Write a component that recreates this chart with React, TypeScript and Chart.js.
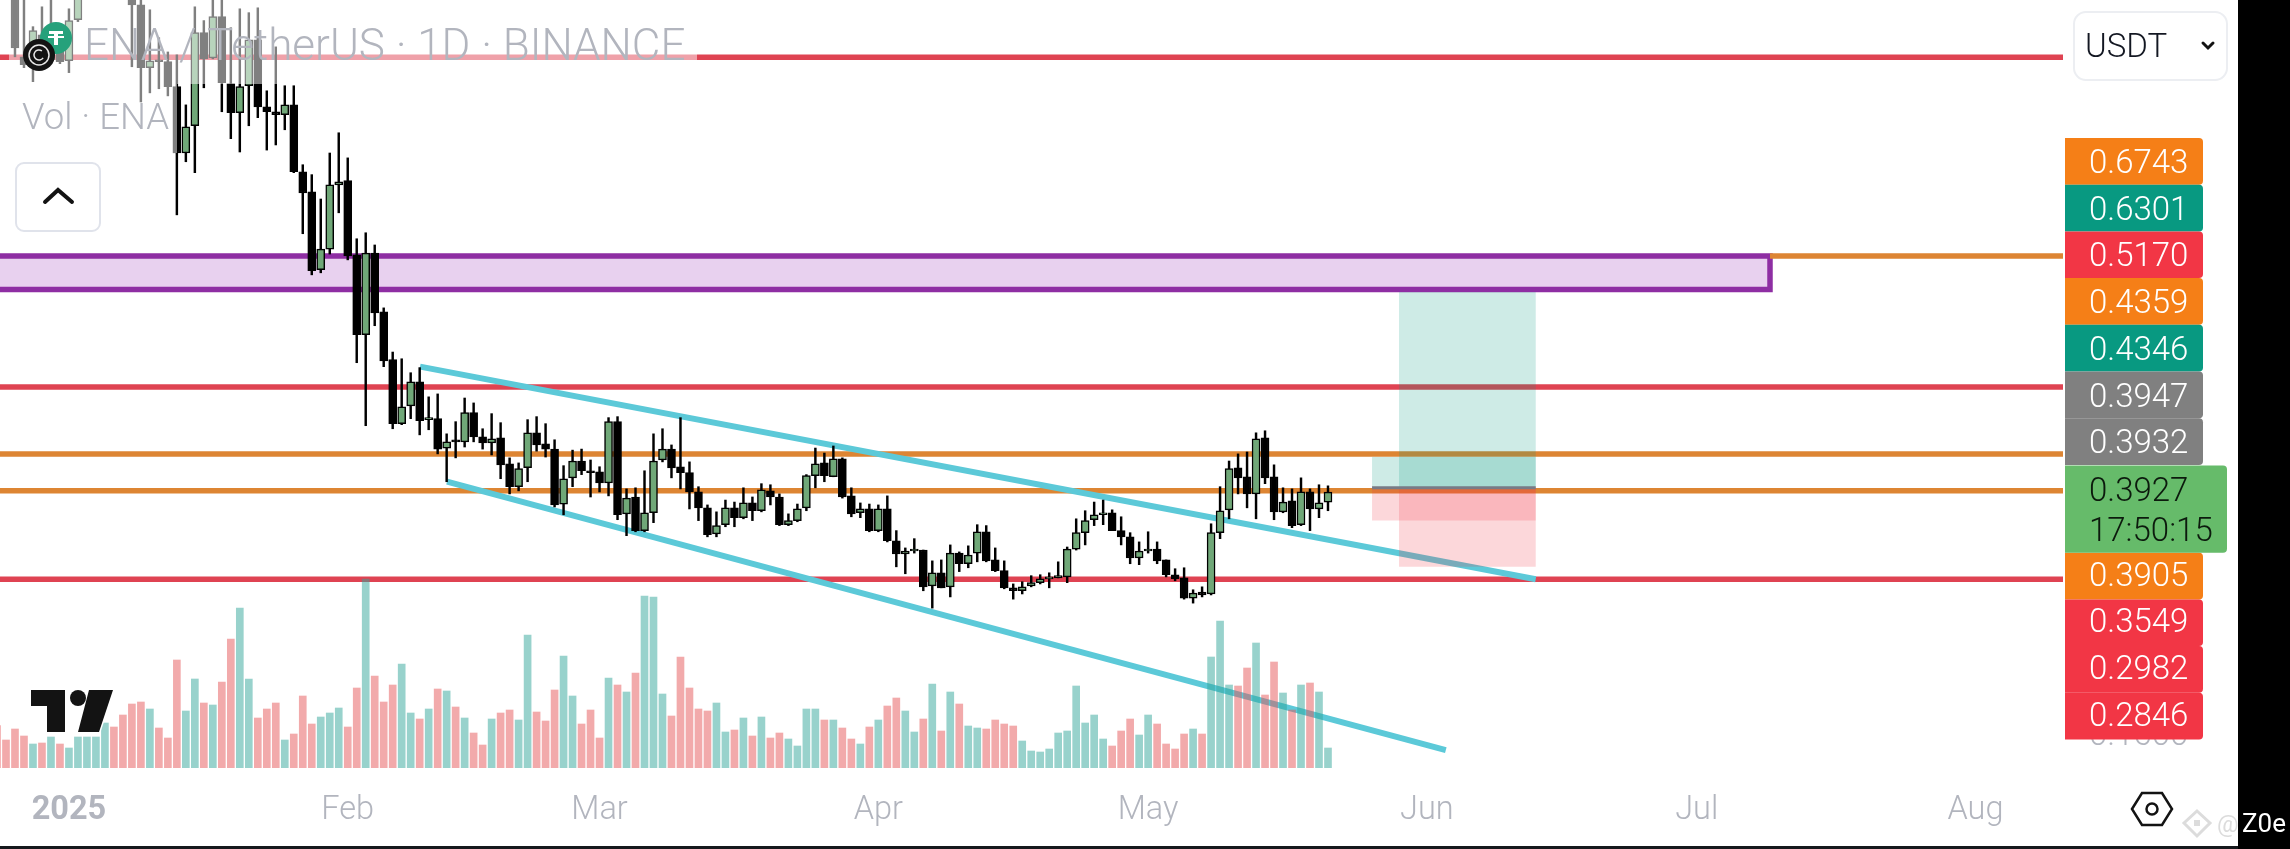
import React, { useRef, useEffect } from 'react';
import { Chart, registerables } from 'chart.js';

Chart.register(...registerables);

// daily candles, one per day
const opens = [
  .7450, .7300, .7200, .6520, .6498, .6690, .6498, .6627, .6490, .6808,
  .7200, .7450, .7700, .8000, .7800, .7150, .6927, .6438, .6498, .6483,
  .6297, .5829, .6017, .6706, .6512, .6832, .6319, .6109, .6304, .6651,
  .6151, .6116, .6095, .6165, .5703, .5571, .5088, .5212, .5617, .5644,
  .5177, .4717, .5188, .4845, .4582, .4253, .4342, .4466, .4273, .4278,
  .4134, .4174, .4164, .4308, .4188, .4159, .4184, .4059, .3952, .4041,
  .4208, .4154, .4129, .3873, .3993, .4072, .4026, .4021, .3970, .4263,
  .3829, .3905, .3755, .3834, .4077, .4129, .4045, .4017, .3928, .3856,
  .3741, .3781, .3856, .3812, .3878, .3843, .3933, .3905, .3781, .3799,
  .3856, .4003, .4063, .3998, .4082, .3910, .3834, .3851, .3755, .3851,
  .3711, .3654, .3667, .3671, .3521, .3575, .3517, .3658, .3613, .3658,
  .3750, .3629, .3584, .3513, .3501, .3521, .3534, .3550, .3554, .3558,
  .3675, .3746, .3803, .3825, .3834, .3755, .3728, .3637, .3667, .3675,
  .3629, .3567, .3554, .3471, .3496, .3488, .3746, .3847, .4040, .3998,
  .3919, .4184, .3998, .3838, .3887, .3781, .3928, .3851, .3882,
];
const highs = [
  .7600, .7450, .7350, .7045, .6753, .6911, .7005, .6730, .6895, .7163,
  .7600, .7900, .8200, .8300, .8000, .7300, .6990, .6887, .6667, .6557,
  .6535, .6165, .6911, .6801, .6990, .6990, .6745, .6895, .6864, .6903,
  .6267, .6596, .6304, .6304, .5750, .5684, .5525, .5829, .5968, .5796,
  .5275, .5312, .5237, .4867, .4623, .4587, .4513, .4540, .4388, .4403,
  .4203, .4263, .4382, .4357, .4228, .4303, .4258, .4087, .4063, .4273,
  .4288, .4253, .4174, .4050, .4124, .4129, .4077, .4045, .4283, .4288,
  .3942, .3947, .4026, .4203, .4228, .4149, .4283, .4068, .3952, .3869,
  .3838, .3891, .3882, .3947, .3905, .3966, .3961, .3919, .3829, .3873,
  .4008, .4134, .4110, .4144, .4087, .3947, .3878, .3873, .3869, .3910,
  .3755, .3680, .3720, .3671, .3625, .3629, .3693, .3663, .3689, .3781,
  .3777, .3680, .3625, .3529, .3538, .3563, .3567, .3575, .3621, .3684,
  .3807, .3843, .3882, .3891, .3847, .3816, .3746, .3706, .3750, .3706,
  .3629, .3592, .3596, .3505, .3517, .3785, .3952, .4072, .4106, .4115,
  .4208, .4218, .4054, .3947, .3942, .3993, .3942, .3961, .3956,
];
const lows = [
  .7250, .7120, .6520, .6438, .6334, .6483, .6468, .6468, .6401, .6793,
  .7050, .7300, .7500, .7600, .7100, .6445, .6186, .6252, .6282, .6230,
  .5424, .5770, .5697, .6289, .6505, .6116, .5927, .5836, .6017, .6074,
  .5849, .5884, .5989, .5697, .5306, .5058, .5070, .5182, .5437, .5147,
  .4566, .4243, .4767, .4545, .4228, .4248, .4278, .4198, .4223, .4106,
  .3975, .4087, .4139, .4164, .4129, .4101, .3989, .3919, .3933, .3975,
  .4119, .4091, .3860, .3825, .3952, .4008, .3905, .3928, .3910, .3803,
  .3733, .3750, .3750, .3790, .4068, .3993, .3942, .3851, .3799, .3728,
  .3728, .3772, .3772, .3807, .3799, .3838, .3869, .3777, .3777, .3794,
  .3843, .3947, .3975, .3998, .3900, .3816, .3812, .3750, .3750, .3706,
  .3600, .3571, .3658, .3501, .3431, .3513, .3476, .3580, .3596, .3621,
  .3621, .3580, .3509, .3467, .3488, .3517, .3529, .3513, .3554, .3534,
  .3671, .3693, .3777, .3781, .3755, .3693, .3613, .3609, .3658, .3613,
  .3558, .3542, .3467, .3451, .3476, .3484, .3720, .3807, .3919, .3856,
  .3807, .3966, .3803, .3834, .3768, .3777, .3755, .3812, .3843,
];
const closes = [
  .7300, .7200, .6587, .6460, .6722, .6535, .6690, .6483, .6801, .7005,
  .7450, .7700, .8000, .7800, .7150, .6927, .6438, .6490, .6483, .6297,
  .5829, .6010, .6706, .6505, .6832, .6326, .6109, .6297, .6651, .6151,
  .6116, .6095, .6165, .5703, .5564, .5082, .5212, .5617, .5637, .5171,
  .4717, .5188, .4839, .4576, .4253, .4337, .4466, .4268, .4283, .4129,
  .4164, .4164, .4308, .4188, .4159, .4179, .4054, .3952, .4036, .4208,
  .4149, .4129, .3869, .3989, .4072, .4026, .4017, .3970, .4263, .3825,
  .3900, .3755, .3834, .4072, .4129, .4040, .4017, .3928, .3856, .3737,
  .3777, .3856, .3812, .3878, .3843, .3938, .3905, .3781, .3799, .3851,
  .4003, .4059, .4003, .4082, .3905, .3829, .3851, .3755, .3851, .3711,
  .3654, .3667, .3675, .3517, .3575, .3513, .3658, .3613, .3650, .3750,
  .3625, .3584, .3513, .3501, .3517, .3534, .3550, .3558, .3563, .3675,
  .3746, .3799, .3825, .3834, .3755, .3728, .3637, .3667, .3675, .3625,
  .3567, .3550, .3471, .3492, .3484, .3746, .3843, .4036, .3993, .3919,
  .4179, .3993, .3838, .3882, .3777, .3928, .3851, .3878, .3927,
];
const volumes = [
  42, 27.7, 38.7, 31.7, 23.7, 24.7, 30.7, 23.7, 19.7, 30.7,
  30.7, 30.7, 44.7, 40.7, 52.7, 63.7, 65.7, 58.7, 39.7, 29.7,
  107.7, 56.7, 88.7, 64.7, 62.7, 85.7, 128.7, 159.7, 88.7, 49.7,
  58.7, 64.7, 27.7, 33.7, 71.7, 43.7, 50.7, 54.7, 59.7, 40.7,
  79.7, 188.7, 91.7, 65.7, 82.7, 103.7, 54.7, 48.7, 58.7, 78.7,
  76.7, 60.7, 49.7, 34.7, 22.7, 48.7, 54.7, 57.7, 47.7, 132.7,
  55.7, 46.7, 77.7, 111.7, 71.7, 43.7, 57.7, 29.7, 89.7, 82.7,
  75.7, 94.7, 171.7, 170.7, 73.7, 51.7, 110.7, 79.7, 58.7, 56.7,
  64.7, 35.7, 37.7, 49.7, 31.7, 50.7, 29.7, 34.7, 28.7, 21.7,
  58.7, 58.7, 47.7, 47.7, 39.7, 28.7, 23.7, 40.7, 47.7, 61.7,
  69.7, 56.7, 35.7, 48.7, 83.7, 36.7, 75.7, 63.7, 41.7, 39.7,
  38.7, 47.7, 43.7, 41.7, 26.7, 16.7, 15.7, 18.7, 34.7, 36.7,
  81.7, 44.7, 52.7, 28.7, 21.7, 36.7, 48.7, 32.7, 52.7, 43.7,
  23.7, 18.7, 33.7, 38.7, 33.7, 110.7, 146.7, 82.7, 81.7, 99.7,
  124.7, 72.7, 105.7, 74.7, 57.7, 82.7, 84.7, 75.7, 19.7,
];

const xTickDays = [8, 39, 67, 98, 128, 159, 189, 220];
const xTickLabels = ['2025', 'Feb', 'Mar', 'Apr', 'May', 'Jun', 'Jul', 'Aug'];

// horizontal levels drawn over the whole width
const redLevels = [0.6516, 0.4438, 0.3548];
const orangeLevels = [0.4105, 0.3933];
const zoneTop = 0.5170;
const zoneBottom = 0.4973;
const zoneEndDay = 197.15;

// channel: [day, price] ends
const upperTrend = [[47.04, 0.4545], [171.1, 0.3548]];
const lowerTrend = [[50.04, 0.3975], [161.1, 0.2908]];

// long position tools: start day, end day, target, entry, stop
const positionTools = [
  [155.9, 171.1, 0.4958, 0.3947, 0.3600],
  [152.9, 171.1, 0.4091, 0.3947, 0.3799],
];

const badgeLabels = ['0.6743', '0.6301', '0.5170', '0.4359', '0.4346', '0.3947', '0.3932'];
const badgeColors = ['#f57f17', '#089981', '#f23645', '#f57f17', '#089981', '#808080', '#808080'];
const lowerBadgeLabels = ['0.3905', '0.3549', '0.2982', '0.2846'];
const lowerBadgeColors = ['#f57f17', '#f23645', '#f23645', '#f23645'];
const lastPrice = '0.3927';
const countdown = '17:50:15';

const FONT = 'Roboto, sans-serif';
const MUTED = '#b2b5be';

const roundedRect = (ctx: CanvasRenderingContext2D, x: number, y: number, w: number, h: number, r: number | number[]) => {
  ctx.beginPath();
  ctx.roundRect(x, y, w, h, r);
};

const decorations = {
  id: 'decorations',
  afterDraw(chart: any) {
    const ctx: CanvasRenderingContext2D = chart.ctx;
    ctx.save();

    // translucent legend background
    ctx.fillStyle = 'rgba(255,255,255,0.5)';
    ctx.fillRect(9, 0, 688, 84);
    ctx.fillRect(9, 84, 168, 69);

    // legend text
    ctx.textBaseline = 'alphabetic';
    ctx.textAlign = 'left';
    ctx.fillStyle = MUTED;
    ctx.font = `300 44px ${FONT}`;
    ctx.fillText('ENA / TetherUS · 1D · BINANCE', 84, 60);
    ctx.font = `300 36.5px ${FONT}`;
    ctx.fillText('Vol · ENA', 22, 129);

    // symbol icons
    ctx.fillStyle = '#26a17b';
    ctx.beginPath();
    ctx.arc(56, 38, 16, 0, Math.PI * 2);
    ctx.fill();
    ctx.fillStyle = '#fff';
    ctx.fillRect(49, 31, 14, 3);
    ctx.fillRect(54, 31, 4, 14);
    ctx.fillRect(48, 36, 16, 2);
    ctx.fillStyle = '#131313';
    ctx.beginPath();
    ctx.arc(39, 55, 16, 0, Math.PI * 2);
    ctx.fill();
    ctx.strokeStyle = '#e8e8e8';
    ctx.lineWidth = 1.5;
    ctx.beginPath();
    ctx.arc(39, 55, 10, 0, Math.PI * 2);
    ctx.stroke();
    ctx.beginPath();
    ctx.arc(39, 55, 5, 0.6, Math.PI * 1.7);
    ctx.stroke();

    // collapse button
    ctx.fillStyle = '#fff';
    roundedRect(ctx, 16, 163, 84, 68, 8);
    ctx.fill();
    ctx.strokeStyle = '#e0e3eb';
    ctx.lineWidth = 2;
    ctx.stroke();
    ctx.strokeStyle = '#131313';
    ctx.lineWidth = 4;
    ctx.lineCap = 'round';
    ctx.beginPath();
    ctx.moveTo(45, 202);
    ctx.lineTo(58, 190);
    ctx.lineTo(72, 202);
    ctx.stroke();

    // currency select
    ctx.fillStyle = '#fff';
    roundedRect(ctx, 2074, 12, 153, 68, 12);
    ctx.fill();
    ctx.strokeStyle = '#eceef2';
    ctx.lineWidth = 2;
    ctx.stroke();
    ctx.fillStyle = '#131722';
    ctx.font = `300 33px ${FONT}`;
    ctx.fillText('USDT', 2085, 57);
    ctx.strokeStyle = '#131313';
    ctx.lineWidth = 3;
    ctx.beginPath();
    ctx.moveTo(2203, 43);
    ctx.lineTo(2208, 48);
    ctx.lineTo(2213, 43);
    ctx.stroke();

    // axis text hidden behind the last badge
    ctx.fillStyle = MUTED;
    ctx.fillText('0.1600', 2089, 745);

    // price badges stacked up the axis
    const badgeH = 46.7;
    badgeLabels.forEach((text, i) => {
      const top = 138 + i * badgeH;
      ctx.fillStyle = badgeColors[i];
      roundedRect(ctx, 2065, top, 138, badgeH, [0, 4, 4, 0]);
      ctx.fill();
      ctx.fillStyle = '#fff';
      ctx.fillText(text, 2089, top + 35);
    });
    lowerBadgeLabels.forEach((text, i) => {
      const top = 552.7 + i * badgeH;
      ctx.fillStyle = lowerBadgeColors[i];
      roundedRect(ctx, 2065, top, 138, badgeH, [0, 4, 4, 0]);
      ctx.fill();
      ctx.fillStyle = '#fff';
      ctx.fillText(text, 2089, top + 33);
    });
    ctx.fillStyle = '#66bb6a';
    roundedRect(ctx, 2065, 465.5, 162, 87.2, [0, 4, 4, 0]);
    ctx.fill();
    ctx.fillStyle = '#0c1a0d';
    ctx.fillText(lastPrice, 2089, 501);
    ctx.fillText(countdown, 2089, 541);

    // settings hexagon
    ctx.strokeStyle = '#131313';
    ctx.lineWidth = 2.5;
    ctx.lineCap = 'butt';
    ctx.lineJoin = 'miter';
    ctx.beginPath();
    ctx.moveTo(2132, 809);
    ctx.lineTo(2142, 793);
    ctx.lineTo(2162, 793);
    ctx.lineTo(2172, 809);
    ctx.lineTo(2162, 825);
    ctx.lineTo(2142, 825);
    ctx.closePath();
    ctx.stroke();
    ctx.beginPath();
    ctx.arc(2152, 809, 5.5, 0, Math.PI * 2);
    ctx.stroke();

    // TradingView mark
    ctx.fillStyle = '#131313';
    ctx.strokeStyle = '#fff';
    ctx.lineWidth = 3;
    ctx.beginPath();
    ctx.moveTo(31, 690);
    ctx.lineTo(65, 690);
    ctx.lineTo(65, 732);
    ctx.lineTo(47, 732);
    ctx.lineTo(47, 706);
    ctx.lineTo(31, 706);
    ctx.closePath();
    ctx.moveTo(89, 690);
    ctx.lineTo(113, 690);
    ctx.lineTo(99, 732);
    ctx.lineTo(78, 732);
    ctx.closePath();
    ctx.stroke();
    ctx.fill();
    ctx.beginPath();
    ctx.arc(78, 698, 8, 0, Math.PI * 2);
    ctx.fill();

    // frame of the screenshot
    ctx.fillStyle = '#000';
    ctx.fillRect(2238, 0, 52, 849);
    ctx.fillStyle = '#16181c';
    ctx.fillRect(0, 846, 2238, 3);

    // watermark
    ctx.strokeStyle = '#dcdcdc';
    ctx.lineWidth = 3;
    ctx.beginPath();
    ctx.moveTo(2197, 811);
    ctx.lineTo(2210, 823);
    ctx.lineTo(2197, 836);
    ctx.lineTo(2184, 823);
    ctx.closePath();
    ctx.stroke();
    ctx.fillStyle = '#dcdcdc';
    ctx.fillRect(2194, 820, 6, 6);
    ctx.font = `400 24px ${FONT}`;
    ctx.fillText('@', 2217, 832);
    ctx.fillStyle = '#fff';
    ctx.font = `400 26px ${FONT}`;
    ctx.fillText('Z0e', 2242, 832);

    ctx.restore();
  },
};

const polygon = (x0: number, x1: number, top: number, bottom: number) => [
  { x: x0, y: top }, { x: x1, y: top }, { x: x1, y: bottom }, { x: x0, y: bottom }, { x: x0, y: top },
];

const hLine = (price: number, color: string, order: number, from = -5, to = 240) => ({
  type: 'line' as const,
  data: [{ x: from, y: price }, { x: to, y: price }],
  borderColor: color,
  borderWidth: 5.5,
  pointRadius: 0,
  order,
});

export default function App() {
  const canvasRef = useRef<HTMLCanvasElement | null>(null);

  useEffect(() => {
    if (!canvasRef.current) return;
    const days = opens.map((_, i) => i);
    const isUp = (i: number) => closes[i] >= opens[i];

    const datasets: any[] = [
      ...redLevels.map((p) => hLine(p, '#df4352', 9)),
      ...orangeLevels.map((p) => hLine(p, '#dd8533', 9)),
      hLine(zoneTop, '#dd8533', 9, zoneEndDay, 240),
      {
        type: 'line',
        data: polygon(-5, zoneEndDay, zoneTop, zoneBottom),
        borderColor: '#8e2ea3',
        backgroundColor: '#e8d1ef',
        borderWidth: 5.5,
        borderJoinStyle: 'miter',
        fill: 'shape',
        pointRadius: 0,
        order: 10,
      },
      ...[upperTrend, lowerTrend].map((t) => ({
        type: 'line',
        data: t.map(([x, y]) => ({ x, y })),
        borderColor: '#5cc9d8',
        borderWidth: 6,
        pointRadius: 0,
        order: 8,
      })),
      ...positionTools.flatMap(([x0, x1, target, entry, stop]) => [
        {
          type: 'line',
          data: polygon(x0, x1, target, entry),
          borderWidth: 0,
          borderColor: 'transparent',
          backgroundColor: 'rgba(8,153,129,0.2)',
          fill: 'shape',
          pointRadius: 0,
          order: 7,
        },
        {
          type: 'line',
          data: polygon(x0, x1, entry, stop),
          borderWidth: 0,
          borderColor: 'transparent',
          backgroundColor: 'rgba(242,54,69,0.2)',
          fill: 'shape',
          pointRadius: 0,
          order: 7,
        },
      ]),
      {
        type: 'line',
        data: [{ x: positionTools[1][0], y: positionTools[1][3] }, { x: positionTools[1][1], y: positionTools[1][3] }],
        borderColor: '#787b86',
        borderWidth: 3,
        pointRadius: 0,
        order: 6,
      },
      {
        type: 'bar',
        yAxisID: 'vol',
        grouped: false,
        barThickness: 7,
        data: days.map((d) => ({ x: d, y: volumes[d] })),
        backgroundColor: days.map((d) => (isUp(d) ? 'rgba(50,165,153,0.5)' : 'rgba(230,85,88,0.5)')),
        order: 4,
      },
      {
        type: 'bar',
        grouped: false,
        barThickness: 1.8,
        data: days.map((d) => ({ x: d, y: [lows[d], highs[d]] })),
        backgroundColor: '#000',
        order: 2,
      },
      {
        type: 'bar',
        grouped: false,
        barThickness: 8,
        data: days.map((d) => ({ x: d, y: [opens[d], closes[d]] })),
        backgroundColor: days.map((d) => (isUp(d) ? '#70a878' : '#000')),
        borderColor: '#000',
        borderWidth: 1.5,
        borderSkipped: false,
        order: 1,
      },
    ];

    const chart = new Chart(canvasRef.current, {
      type: 'bar',
      data: { datasets },
      plugins: [decorations],
      options: {
        animation: false,
        responsive: false,
        events: [],
        layout: { padding: { left: 0, top: 0, right: 227, bottom: 0 } },
        plugins: { legend: { display: false }, tooltip: { enabled: false }, title: { display: false } },
        scales: {
          x: {
            type: 'linear',
            offset: false,
            min: 0.3336,
            max: 229.73,
            grid: { display: false, drawTicks: false },
            border: { display: false },
            afterBuildTicks: (scale: any) => {
              scale.ticks = xTickDays.map((value) => ({ value }));
            },
            afterFit: (scale: any) => {
              scale.height = 59;
            },
            ticks: {
              autoSkip: false,
              maxRotation: 0,
              padding: 1,
              color: MUTED,
              font: (ctx: any) => ({ family: FONT, size: 32.5, weight: ctx.index === 0 ? '700' : '300' }),
              callback: (v: any) => xTickLabels[xTickDays.indexOf(v)],
            },
          },
          y: { type: 'logarithmic', display: false, min: 0.2776, max: 0.6966 },
          vol: { type: 'linear', display: false, min: -22.3, max: 767.7 },
        },
      } as any,
    });

    return () => {
      chart.destroy();
    };
  }, []);

  return (
    <div style={{ position: 'fixed', left: 0, top: 0, width: 2290, height: 849, background: '#fff' }}>
      <canvas ref={canvasRef} width={2290} height={849} style={{ display: 'block', width: 2290, height: 849 }} />
    </div>
  );
}
